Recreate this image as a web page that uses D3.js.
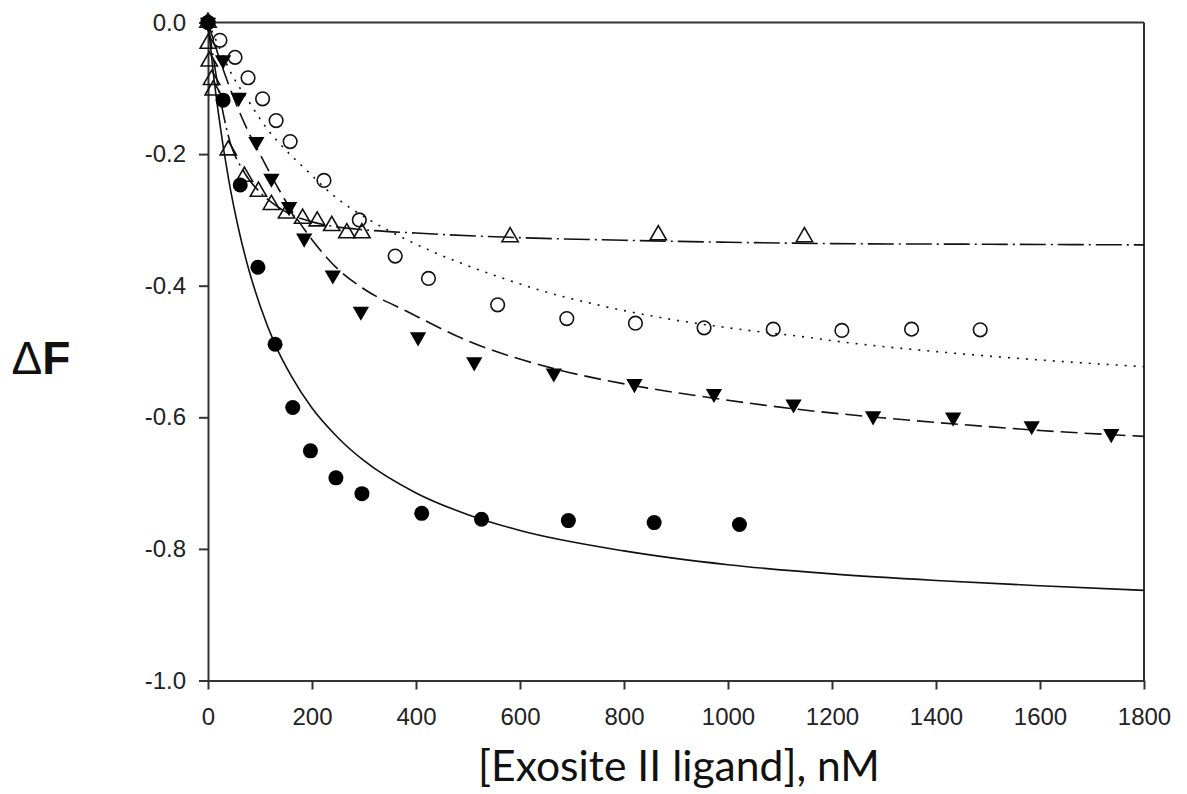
<!DOCTYPE html>
<html>
<head>
<meta charset="utf-8">
<script src="https://cdn.jsdelivr.net/npm/d3@7"></script>
<style>
  html, body { margin: 0; padding: 0; background: #fff; }
  svg { display: block; }
  .axis text { font-family: "Liberation Sans", Arial, sans-serif; font-size: 24px; fill: #222; }
  .axis path, .axis line { stroke: #333; stroke-width: 2; }
</style>
</head>
<body>
<div id="chart"></div>
<script>
// filled circles + solid fit
const circleX = [0, 29, 62, 96, 129, 163, 197, 246, 296, 411, 526, 693, 858, 1022];
const circleY = [0, -0.118, -0.247, -0.372, -0.489, -0.585, -0.651, -0.692, -0.716, -0.746, -0.755, -0.757, -0.760, -0.763];
const solidX = [0, 10, 20, 40, 60, 80, 100, 130, 160, 200, 250, 300, 400, 500, 600, 800, 1000, 1200, 1400, 1600, 1800];
const solidY = [0, -0.075, -0.138, -0.240, -0.318, -0.380, -0.430, -0.491, -0.537, -0.586, -0.631, -0.666, -0.715, -0.748, -0.772, -0.803, -0.824, -0.838, -0.848, -0.856, -0.863];

// filled down-triangles + dashed fit
const triX = [0, 29, 59, 93, 122, 156, 185, 240, 294, 404, 512, 665, 820, 973, 1126, 1279, 1433, 1584, 1737];
const triY = [0, -0.057, -0.114, -0.181, -0.237, -0.280, -0.328, -0.384, -0.439, -0.478, -0.516, -0.533, -0.549, -0.564, -0.580, -0.598, -0.600, -0.613, -0.625];
const dashX = [0, 20, 40, 60, 80, 100, 130, 160, 200, 250, 300, 385, 500, 665, 820, 973, 1125, 1300, 1450, 1600, 1800];
const dashY = [0, -0.05, -0.095, -0.135, -0.17, -0.20, -0.245, -0.285, -0.33, -0.375, -0.405, -0.440, -0.484, -0.526, -0.552, -0.571, -0.587, -0.601, -0.611, -0.620, -0.629];

// open circles + dotted fit
const openCircX = [0, 23, 52, 77, 105, 131, 158, 223, 291, 360, 424, 557, 690, 822, 954, 1087, 1219, 1353, 1485];
const openCircY = [0, -0.027, -0.053, -0.084, -0.116, -0.149, -0.181, -0.240, -0.300, -0.355, -0.389, -0.429, -0.450, -0.457, -0.464, -0.466, -0.468, -0.466, -0.467];
const dotX = [0, 20, 40, 80, 115, 145, 190, 240, 317, 369, 497, 561, 626, 754, 882, 1010, 1138, 1235, 1427, 1619, 1800];
const dotY = [0, -0.035, -0.07, -0.122, -0.163, -0.19, -0.225, -0.262, -0.303, -0.325, -0.369, -0.387, -0.404, -0.430, -0.450, -0.465, -0.477, -0.487, -0.502, -0.514, -0.523];

// open up-triangles + dash-dot fit
const openTriX = [0, 0.5, 2.5, 7, 10, 39, 70, 97, 122, 151, 182, 210, 238, 267, 296, 581, 866, 1147];
const openTriY = [0, -0.032, -0.059, -0.087, -0.103, -0.194, -0.234, -0.257, -0.277, -0.290, -0.298, -0.302, -0.309, -0.320, -0.320, -0.326, -0.323, -0.326];
const dashDotX = [0, 20, 40, 70, 100, 130, 160, 200, 250, 300, 400, 600, 800, 1000, 1200, 1500, 1800];
const dashDotY = [0, -0.10, -0.175, -0.228, -0.258, -0.278, -0.292, -0.303, -0.311, -0.315, -0.320, -0.327, -0.331, -0.334, -0.336, -0.337, -0.338];

const xTicks = [0, 200, 400, 600, 800, 1000, 1200, 1400, 1600, 1800];
const yTicks = [0, -0.2, -0.4, -0.6, -0.8, -1.0];

const width = 1187, height = 794;
const plotL = 208, plotR = 1144, plotT = 22.5, plotB = 680.5;

const zip = (xs, ys) => xs.map((x, i) => [x, ys[i]]);

const svg = d3.select('#chart').append('svg')
  .attr('width', width)
  .attr('height', height);

const xScale = d3.scaleLinear().domain([0, 1800]).range([plotL, plotR]);
const yScale = d3.scaleLinear().domain([-1, 0]).range([plotB, plotT]);

// frame (top + right)
svg.append('line')
   .attr('x1', plotL).attr('x2', plotR).attr('y1', plotT).attr('y2', plotT)
   .attr('stroke', '#333').attr('stroke-width', 2);
svg.append('line')
   .attr('x1', plotR).attr('x2', plotR).attr('y1', plotT).attr('y2', plotB)
   .attr('stroke', '#333').attr('stroke-width', 2);

const xAxis = d3.axisBottom(xScale).tickValues(xTicks).tickSize(9).tickSizeOuter(0).tickPadding(18)
                .tickFormat(d => d);
const yAxis = d3.axisLeft(yScale).tickValues(yTicks).tickSize(9).tickSizeOuter(0).tickPadding(13)
                .tickFormat(d => d.toFixed(1));

svg.append('g')
   .attr('class', 'axis')
   .attr('transform', `translate(0, ${plotB})`)
   .call(xAxis);

svg.append('g')
   .attr('class', 'axis')
   .attr('transform', `translate(${plotL}, 0)`)
   .call(yAxis);

const line = d3.line()
  .x(d => xScale(d[0]))
  .y(d => yScale(d[1]))
  .curve(d3.curveMonotoneX);

const fits = [
  {pts: zip(solidX, solidY), dash: null},
  {pts: zip(dashX, dashY), dash: '17,7'},
  {pts: zip(dotX, dotY), dash: '2,7'},
  {pts: zip(dashDotX, dashDotY), dash: '26,5,2,5'}
];

svg.selectAll('path.fit')
   .data(fits)
   .enter()
   .append('path')
   .attr('class', 'fit')
   .attr('d', d => line(d.pts))
   .attr('fill', 'none')
   .attr('stroke', '#111')
   .attr('stroke-width', 1.6)
   .attr('stroke-dasharray', d => d.dash);

const triSym = d3.symbol().type(d3.symbolTriangle).size(115);

// open triangles
svg.selectAll('path.otri')
   .data(zip(openTriX, openTriY))
   .enter()
   .append('path')
   .attr('class', 'otri')
   .attr('d', triSym)
   .attr('transform', d => `translate(${xScale(d[0])}, ${yScale(d[1])})`)
   .attr('fill', 'none')
   .attr('stroke', '#111')
   .attr('stroke-width', 1.6);

// open circles
svg.selectAll('circle.ocirc')
   .data(zip(openCircX, openCircY))
   .enter()
   .append('circle')
   .attr('class', 'ocirc')
   .attr('cx', d => xScale(d[0]))
   .attr('cy', d => yScale(d[1]))
   .attr('r', 6.8)
   .attr('fill', 'none')
   .attr('stroke', '#111')
   .attr('stroke-width', 1.6);

// filled down triangles
svg.selectAll('path.ftri')
   .data(zip(triX, triY))
   .enter()
   .append('path')
   .attr('class', 'ftri')
   .attr('d', triSym)
   .attr('transform', d => `translate(${xScale(d[0])}, ${yScale(d[1])}) rotate(180)`)
   .attr('fill', '#000');

// filled circles
svg.selectAll('circle.fcirc')
   .data(zip(circleX, circleY))
   .enter()
   .append('circle')
   .attr('class', 'fcirc')
   .attr('cx', d => xScale(d[0]))
   .attr('cy', d => yScale(d[1]))
   .attr('r', 7.5)
   .attr('fill', '#000');

// axis titles
const yTitle = svg.append('text')
   .attr('x', 41)
   .attr('y', 374)
   .attr('text-anchor', 'middle')
   .attr('font-family', '"Liberation Sans", Arial, sans-serif')
   .attr('font-size', 46)
   .attr('fill', '#111');
yTitle.append('tspan').attr('font-weight', 'normal').text('Δ');
yTitle.append('tspan').attr('font-weight', 'bold').text('F');

const xTitle = svg.append('text')
   .attr('x', 679)
   .attr('y', 781)
   .attr('text-anchor', 'middle')
   .attr('font-family', 'Lato, "Open Sans", sans-serif')
   .attr('font-size', 40)
   .attr('fill', '#111')
   .text('[Exosite II ligand], nM');
const w = xTitle.node().getComputedTextLength();
xTitle.attr('font-size', 40 * 402 / w);
</script>
</body>
</html>
